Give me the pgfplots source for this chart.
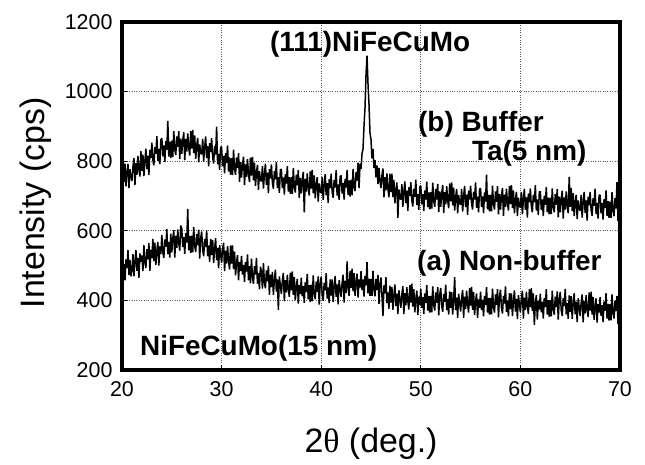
\documentclass[border=0pt]{standalone}
\usepackage{pgfplots}
\pgfplotsset{compat=1.18}
\usepackage{pgfplotstable}
\usepackage{fontspec}
\setmainfont{Liberation Sans}
\newfontfamily\thetafont{Liberation Serif}

% 2theta, (a) non-buffer, (b) buffer Ta(5 nm)
\pgfplotstableread{
x a b
20.0 526 751
20.1 474 806
20.2 505 741
20.3 458 793
20.4 518 728
20.5 493 767
20.6 545 792
20.7 473 723
20.8 516 777
20.9 469 754
21.0 487 743
21.1 533 784
21.2 469 809
21.3 513 731
21.4 545 794
21.5 485 761
21.6 522 815
21.7 465 776
21.8 535 756
21.9 511 829
22.0 529 772
22.1 484 819
22.2 559 757
22.3 508 802
22.4 493 836
22.5 547 777
22.6 518 816
22.7 565 760
22.8 485 832
22.9 546 809
23.0 521 853
23.1 577 803
23.2 513 788
23.3 566 841
23.4 502 821
23.5 542 872
23.6 568 801
23.7 500 835
23.8 555 792
23.9 533 861
24.0 588 866
24.1 538 814
24.2 522 845
24.3 575 798
24.4 554 858
24.5 605 833
24.6 533 916
24.7 567 813
24.8 523 856
24.9 592 809
25.0 538 859
25.1 578 812
25.2 602 886
25.3 523 834
25.4 585 818
25.5 551 871
25.6 604 841
25.7 564 886
25.8 543 806
25.9 615 865
26.0 606 821
26.1 553 860
26.2 582 883
26.3 534 803
26.4 593 864
26.5 566 828
26.6 663 880
26.7 544 839
26.8 585 816
26.9 537 886
27.0 586 836
27.1 538 890
27.2 611 823
27.3 556 874
27.4 539 807
27.5 590 844
27.6 559 867
27.7 603 797
27.8 520 848
27.9 578 823
28.0 598 820
28.1 545 864
28.2 527 799
28.3 576 841
28.4 553 871
28.5 601 809
28.6 527 844
28.7 558 785
28.8 511 852
28.9 577 826
29.0 530 866
29.1 574 812
29.2 507 793
29.3 549 843
29.4 579 819
29.5 516 899
29.6 551 791
29.7 492 821
29.8 559 775
29.9 533 840
30.0 508 841
30.1 545 786
30.2 566 815
30.3 484 765
30.4 543 823
30.5 506 795
30.6 556 845
30.7 513 770
30.8 489 811
30.9 558 761
31.0 506 809
31.1 558 760
31.2 490 833
31.3 540 778
31.4 472 761
31.5 508 811
31.6 530 780
31.7 458 823
31.8 510 741
31.9 484 798
32.0 528 753
32.1 474 791
32.2 502 813
32.3 453 731
32.4 510 791
32.5 483 755
32.6 532 806
32.7 458 764
32.8 498 740
32.9 449 810
33.0 520 759
33.1 467 812
33.2 448 745
33.3 498 796
33.4 474 729
33.5 522 766
33.6 448 789
33.7 478 718
33.8 432 771
33.9 497 746
34.0 482 742
34.1 434 786
34.2 507 721
34.3 452 763
34.4 435 793
34.5 486 732
34.6 455 767
34.7 499 708
34.8 416 777
34.9 474 751
35.0 438 791
35.1 482 738
35.2 416 721
35.3 458 771
35.4 488 748
35.5 425 797
35.6 460 723
35.7 373 754
35.8 469 709
35.9 443 775
36.0 418 777
36.1 456 723
36.2 479 753
36.3 398 704
36.4 458 763
36.5 423 736
36.6 474 786
36.7 432 713
36.8 410 754
36.9 480 706
37.0 429 754
37.1 483 706
37.2 416 780
37.3 467 726
37.4 400 710
37.5 438 761
37.6 462 731
37.7 391 775
37.8 444 694
37.9 419 752
38.0 465 708
38.1 412 746
38.2 441 769
38.3 393 653
38.4 452 749
38.5 425 713
38.6 476 765
38.7 403 723
38.8 444 701
38.9 396 771
39.0 445 721
39.1 398 775
39.2 472 708
39.3 419 759
39.4 403 693
39.5 454 730
39.6 424 754
39.7 469 684
39.8 388 736
39.9 447 712
40.0 468 709
40.1 416 754
40.2 399 689
40.3 450 732
40.4 429 763
40.5 478 702
40.6 405 737
40.7 437 680
40.8 392 748
40.9 460 723
41.0 414 764
41.1 460 712
41.2 395 695
41.3 439 746
41.4 470 724
41.5 410 774
41.6 446 701
41.7 389 733
41.8 458 689
41.9 434 756
42.0 410 759
42.1 450 707
42.2 474 737
42.3 394 690
42.4 456 749
42.5 422 724
42.6 512 775
42.7 435 703
42.8 413 745
42.9 485 698
43.0 436 747
43.1 491 702
43.2 426 778
43.3 478 727
43.4 413 714
43.5 452 769
43.6 477 744
43.7 408 796
43.8 460 723
43.9 437 793
44.0 484 778
44.1 430 822
44.2 460 835
44.3 411 902
44.4 470 955
44.5 443 1048
44.6 510 1103
44.7 420 1022
44.8 462 962
44.9 413 881
45.0 462 862
45.1 413 808
45.2 485 835
45.3 430 781
45.4 412 803
45.5 462 754
45.6 430 788
45.7 473 734
45.8 390 781
45.9 447 743
46.0 466 723
46.1 412 759
46.2 355 779
46.3 443 696
46.4 420 754
46.5 467 716
46.6 392 765
46.7 423 721
46.8 376 696
46.9 442 764
47.0 394 711
47.1 438 764
47.2 373 697
47.3 415 746
47.4 446 679
47.5 384 716
47.6 419 739
47.7 361 637
47.8 429 719
47.9 404 694
48.0 379 690
48.1 418 734
48.2 441 669
48.3 361 711
48.4 421 742
48.5 386 680
48.6 438 715
48.7 397 657
48.8 374 725
48.9 444 700
49.0 394 740
49.1 448 688
49.2 382 670
49.3 432 721
49.4 366 698
49.5 404 747
49.6 428 674
49.7 358 705
49.8 411 660
49.9 387 726
50.0 432 729
50.1 379 676
50.2 409 705
50.3 361 657
50.4 420 716
50.5 393 690
50.6 444 741
50.7 371 668
50.8 413 710
50.9 365 662
51.0 413 711
51.1 366 664
51.2 440 738
51.3 387 685
51.4 371 669
51.5 423 720
51.6 393 690
51.7 438 735
51.8 357 654
51.9 416 713
52.0 436 669
52.1 384 708
52.2 367 731
52.3 418 651
52.4 396 711
52.5 445 676
52.6 372 728
52.7 404 687
52.8 359 665
52.9 426 736
53.0 379 685
53.1 424 739
53.2 359 673
53.3 402 724
53.4 467 658
53.5 372 696
53.6 408 720
53.7 350 650
53.8 419 703
53.9 394 679
54.0 368 675
54.1 407 720
54.2 430 655
54.3 350 698
54.4 411 729
54.5 376 668
54.6 428 704
54.7 387 646
54.8 365 715
54.9 436 690
55.0 385 730
55.1 439 678
55.2 373 661
55.3 424 712
55.4 358 690
55.5 396 739
55.6 420 666
55.7 350 698
55.8 403 653
55.9 379 720
56.0 425 722
56.1 372 669
56.2 402 699
56.3 354 651
56.4 413 710
56.5 387 684
56.6 438 761
56.7 365 662
56.8 407 704
56.9 359 656
57.0 407 703
57.1 360 656
57.2 434 730
57.3 381 677
57.4 365 661
57.5 417 713
57.6 387 683
57.7 432 728
57.8 351 647
57.9 410 706
58.0 431 661
58.1 379 700
58.2 362 723
58.3 413 643
58.4 391 704
58.5 440 669
58.6 367 721
58.7 399 680
58.8 354 658
58.9 421 729
59.0 375 677
59.1 420 731
59.2 355 665
59.3 398 716
59.4 429 650
59.5 368 688
59.6 404 712
59.7 346 642
59.8 415 695
59.9 390 671
60.0 366 667
60.1 405 712
60.2 428 647
60.3 348 690
60.4 408 721
60.5 373 660
60.6 425 696
60.7 384 638
60.8 361 707
60.9 432 682
61.0 381 722
61.1 435 670
61.2 369 653
61.3 420 704
61.4 330 682
61.5 391 731
61.6 415 658
61.7 345 690
61.8 398 645
61.9 374 712
62.0 419 713
62.1 366 660
62.2 396 690
62.3 348 642
62.4 407 701
62.5 381 675
62.6 432 726
62.7 359 653
62.8 401 695
62.9 353 647
63.0 401 695
63.1 354 648
63.2 428 722
63.3 375 669
63.4 359 653
63.5 411 705
63.6 381 675
63.7 426 720
63.8 345 639
63.9 404 698
64.0 424 653
64.1 372 692
64.2 355 715
64.3 406 635
64.4 384 696
64.5 433 661
64.6 360 713
64.7 392 672
64.8 347 650
64.9 414 755
65.0 367 669
65.1 412 723
65.2 347 657
65.3 390 708
65.4 421 642
65.5 360 680
65.6 396 704
65.7 338 634
65.8 406 687
65.9 381 663
66.0 355 658
66.1 394 703
66.2 417 638
66.3 337 681
66.4 398 712
66.5 363 651
66.6 415 687
66.7 374 629
66.8 352 698
66.9 423 673
67.0 371 712
67.1 425 660
67.2 359 643
67.3 410 694
67.4 344 672
67.5 382 721
67.6 406 648
67.7 336 680
67.8 389 635
67.9 365 702
68.0 409 703
68.1 356 650
68.2 386 680
68.3 338 632
68.4 397 691
68.5 370 665
68.6 421 716
68.7 348 643
68.8 390 685
68.9 342 637
69.0 390 684
69.1 343 637
69.2 417 711
69.3 364 658
69.4 348 642
69.5 399 694
69.6 369 664
69.7 413 740
69.8 332 628
69.9 391 687
70.0 380 672
}\xrd

\begin{document}
\begin{tikzpicture}
\begin{axis}[
    scale only axis,
    width=498bp, height=348bp,
    xmin=20, xmax=70, ymin=200, ymax=1200,
    xtick={20,30,...,70},
    ytick={200,400,...,1200},
    tick pos=left,
    tick align=inside,
    major tick length=5bp,
    tick style={black, line width=1bp},
    grid=major,
    grid style={dotted, black!65, line width=0.6bp},
    axis line style={line width=3.5bp},
    /pgf/number format/assume math mode=true,
    /pgf/number format/1000 sep={},
    ticklabel style={font=\fontsize{21.5}{26}\selectfont},
    xticklabel style={yshift=-8bp},
    yticklabel style={xshift=-6bp},
    xlabel={2{\thetafont θ} (deg.)},
    xlabel style={font=\fontsize{34}{40}\selectfont, at={(axis description cs:0.5,-0.2385)}, anchor=base},
    ylabel={Intensity (cps)},
    ylabel style={font=\fontsize{34}{40}\selectfont, at={(axis description cs:-0.155,0.48)}, anchor=base},
]
\coordinate (O) at (rel axis cs:0,0);
\addplot[black, line width=1.5bp, line join=bevel] table[x=x, y=b] {\xrd};
\addplot[black, line width=1.5bp, line join=bevel] table[x=x, y=a] {\xrd};

\node[anchor=base west, inner sep=0pt, font=\bfseries\fontsize{28}{32}\selectfont] at (axis cs:34.86,1114) {(111)NiFeCuMo};
\node[anchor=base west, inner sep=0pt, font=\bfseries\fontsize{28}{32}\selectfont] at (axis cs:49.72,884) {(b) Buffer};
\node[anchor=base west, inner sep=0pt, font=\bfseries\fontsize{28}{32}\selectfont] at (axis cs:55.14,803) {Ta(5 nm)};
\node[anchor=base west, inner sep=0pt, font=\bfseries\fontsize{28}{32}\selectfont] at (axis cs:49.62,487) {(a) Non-buffer};
\node[anchor=base west, inner sep=0pt, font=\bfseries\fontsize{28}{32}\selectfont] at (axis cs:21.8,243) {NiFeCuMo(15 nm)};
\end{axis}
\pgfresetboundingbox
\useasboundingbox (O) ++(-122bp,-95bp) rectangle ++(645bp,465bp);
\end{tikzpicture}
\end{document}
